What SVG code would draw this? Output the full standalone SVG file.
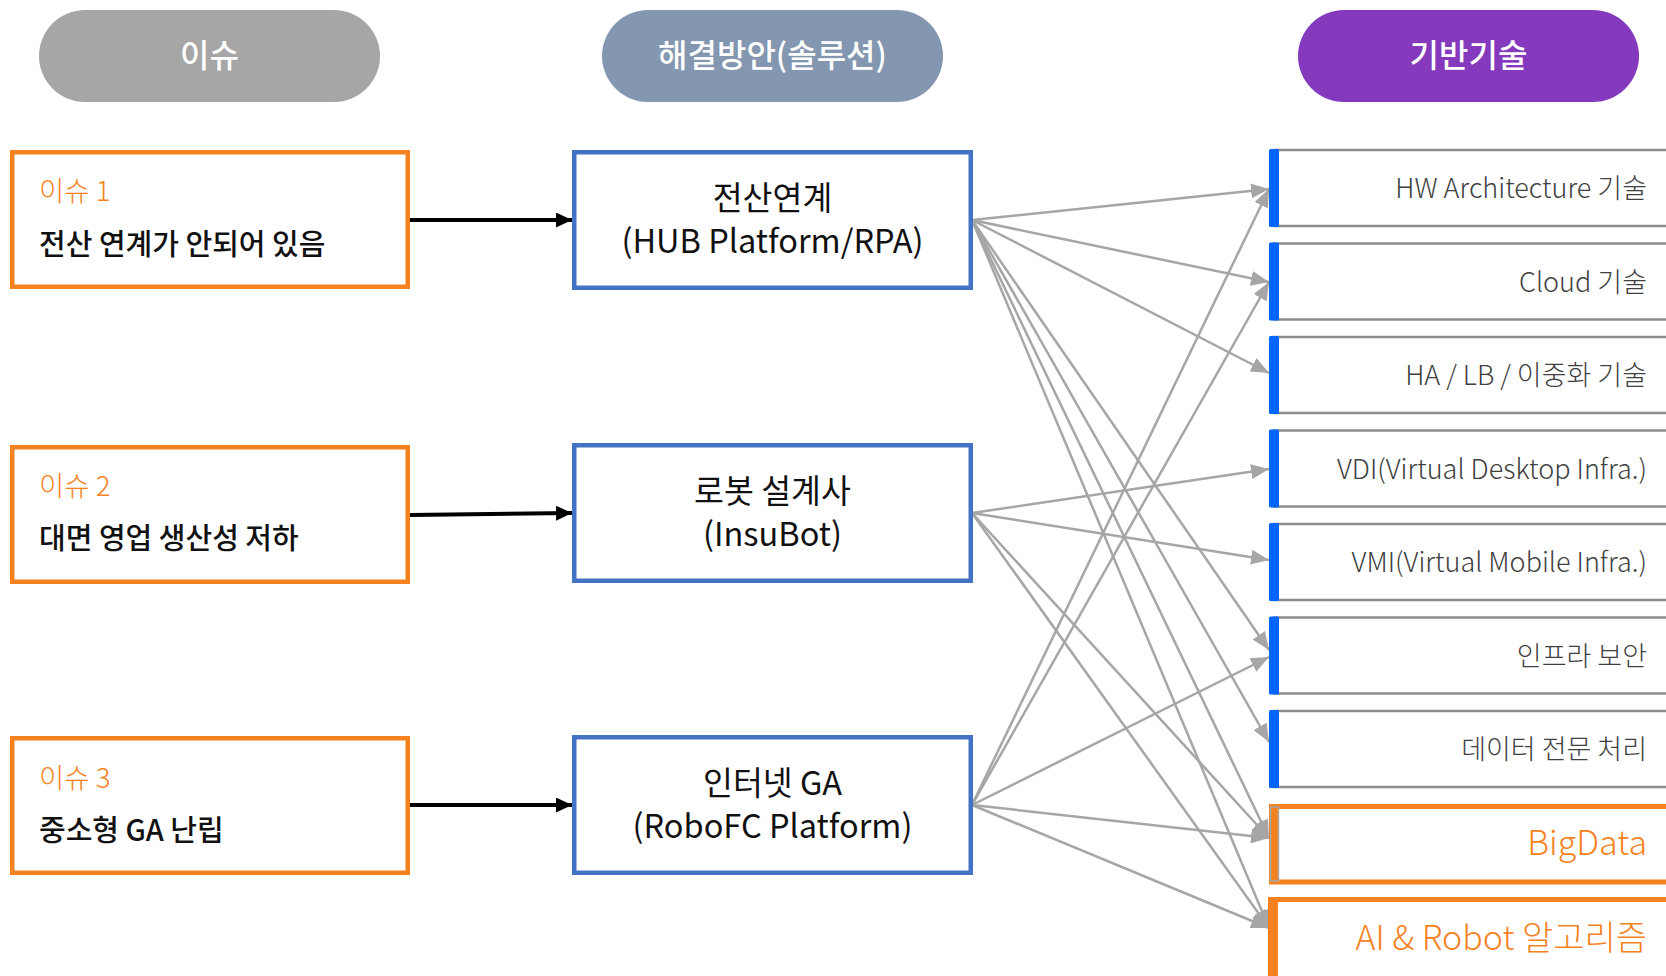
<svg xmlns="http://www.w3.org/2000/svg" width="1666" height="976" viewBox="0 0 1666 976">
  <style>
    text { font-family: 'Noto Sans CJK KR', 'Noto Sans', sans-serif; }
    .pill-t { font-size: 32px; font-weight: 500; fill: #ffffff; text-anchor: middle; }
    .issue-box { fill: #ffffff; stroke: #F5821F; stroke-width: 4.5; }
    .issue-lbl { font-size: 27.5px; font-weight: 300; fill: #F5821F; }
    .issue-txt { font-size: 29px; font-weight: 500; fill: #111111; }
    .sol-box { fill: #ffffff; stroke: #4472C4; stroke-width: 4.5; }
    .sol-txt { font-size: 32.5px; font-weight: 400; fill: #111111; text-anchor: middle; }
    .tech-box { fill: #ffffff; stroke: #8c8c8c; stroke-width: 2.5; }
    .tech-bar { fill: #0066FF; }
    .tech-txt { font-size: 27px; font-weight: 300; fill: #404040; text-anchor: end; }
    .tech-hi-box { fill: #ffffff; stroke: #F5821F; stroke-width: 5; }
    .tech-hi-txt { font-size: 34px; font-weight: 300; fill: #F5821F; text-anchor: end; }
    .blk { stroke: #000000; stroke-width: 4; fill: none; marker-end: url(#ah-black); }
    .gry { stroke: #a6a6a6; stroke-width: 2.5; fill: none; marker-end: url(#ah-gray); }
  </style>
  <defs>
    <marker id="ah-black" markerUnits="userSpaceOnUse" markerWidth="16" markerHeight="15" refX="16" refY="7.5" orient="auto">
      <path d="M0,0 L16,7.5 L0,15 z" fill="#000000"/>
    </marker>
    <marker id="ah-gray" markerUnits="userSpaceOnUse" markerWidth="18" markerHeight="15" refX="18" refY="7.5" orient="auto">
      <path d="M0,0 L18,7.5 L0,15 z" fill="#a6a6a6"/>
    </marker>
  </defs>

  <rect width="1666" height="976" fill="#ffffff"/>

  <!-- Column headers -->
  <g id="hdr-issue">
    <rect x="39" y="10" width="341" height="92" rx="46" fill="#A6A6A6"/>
    <text class="pill-t" x="209.5" y="67">이슈</text>
  </g>
  <g id="hdr-solution">
    <rect x="602" y="10" width="341" height="92" rx="46" fill="#8497B0"/>
    <text class="pill-t" x="772.5" y="67">해결방안(솔루션)</text>
  </g>
  <g id="hdr-tech">
    <rect x="1298" y="10" width="341" height="92" rx="46" fill="#853ABD"/>
    <text class="pill-t" x="1468.5" y="67">기반기술</text>
  </g>

  <!-- Connectors -->
  <g id="connectors">
    <path class="blk" d="M410,220 L572,220"/>
    <path class="blk" d="M410,515 L572,513"/>
    <path class="blk" d="M410,805 L572,805"/>

    <path class="gry" d="M972,220 L1269,189"/>
    <path class="gry" d="M972,220 L1269,282"/>
    <path class="gry" d="M972,220 L1269,373"/>
    <path class="gry" d="M972,220 L1269,650"/>
    <path class="gry" d="M972,220 L1269,742"/>
    <path class="gry" d="M972,220 L1269,838"/>
    <path class="gry" d="M972,220 L1269,928"/>

    <path class="gry" d="M972,513 L1269,469"/>
    <path class="gry" d="M972,513 L1269,560"/>
    <path class="gry" d="M972,513 L1269,838"/>
    <path class="gry" d="M972,513 L1269,928"/>

    <path class="gry" d="M972,805 L1269,189"/>
    <path class="gry" d="M972,805 L1269,282"/>
    <path class="gry" d="M972,805 L1269,657"/>
    <path class="gry" d="M972,805 L1269,838"/>
    <path class="gry" d="M972,805 L1269,928"/>
  </g>

  <!-- Issues -->
  <g id="issue1">
    <rect class="issue-box" x="12.25" y="152.25" width="395.5" height="134.5"/>
    <text class="issue-lbl" x="39" y="201">이슈 1</text>
    <text class="issue-txt" x="39" y="255">전산 연계가 안되어 있음</text>
  </g>
  <g id="issue2">
    <rect class="issue-box" x="12.25" y="447.25" width="395.5" height="134.5"/>
    <text class="issue-lbl" x="39" y="496">이슈 2</text>
    <text class="issue-txt" x="39" y="549">대면 영업 생산성 저하</text>
  </g>
  <g id="issue3">
    <rect class="issue-box" x="12.25" y="738.25" width="395.5" height="134.5"/>
    <text class="issue-lbl" x="39" y="788">이슈 3</text>
    <text class="issue-txt" x="39" y="841">중소형 GA 난립</text>
  </g>

  <!-- Solutions -->
  <g id="sol1">
    <rect class="sol-box" x="574.25" y="152.25" width="396.5" height="135.5"/>
    <text class="sol-txt" x="772.5" y="210">전산연계</text>
    <text class="sol-txt" x="772.5" y="253">(HUB Platform/RPA)</text>
  </g>
  <g id="sol2">
    <rect class="sol-box" x="574.25" y="445.25" width="396.5" height="135.5"/>
    <text class="sol-txt" x="772.5" y="503">로봇 설계사</text>
    <text class="sol-txt" x="772.5" y="546">(InsuBot)</text>
  </g>
  <g id="sol3">
    <rect class="sol-box" x="574.25" y="737.25" width="396.5" height="135.5"/>
    <text class="sol-txt" x="772.5" y="795">인터넷 GA</text>
    <text class="sol-txt" x="772.5" y="838">(RoboFC Platform)</text>
  </g>

  <!-- Technologies -->
  <g id="tech-hw">
    <rect class="tech-box" x="1274" y="150" width="450" height="76"/>
    <rect class="tech-bar" x="1269" y="149" width="10" height="78" rx="1.5"/>
    <text class="tech-txt" x="1647" y="198">HW Architecture 기술</text>
  </g>
  <g id="tech-cloud">
    <rect class="tech-box" x="1274" y="243.5" width="450" height="76"/>
    <rect class="tech-bar" x="1269" y="242.5" width="10" height="78" rx="1.5"/>
    <text class="tech-txt" x="1647" y="291.5">Cloud 기술</text>
  </g>
  <g id="tech-ha">
    <rect class="tech-box" x="1274" y="337" width="450" height="76"/>
    <rect class="tech-bar" x="1269" y="336" width="10" height="78" rx="1.5"/>
    <text class="tech-txt" x="1647" y="385">HA / LB / 이중화 기술</text>
  </g>
  <g id="tech-vdi">
    <rect class="tech-box" x="1274" y="430.5" width="450" height="76"/>
    <rect class="tech-bar" x="1269" y="429.5" width="10" height="78" rx="1.5"/>
    <text class="tech-txt" x="1647" y="478.5">VDI(Virtual Desktop Infra.)</text>
  </g>
  <g id="tech-vmi">
    <rect class="tech-box" x="1274" y="524" width="450" height="76"/>
    <rect class="tech-bar" x="1269" y="523" width="10" height="78" rx="1.5"/>
    <text class="tech-txt" x="1647" y="572">VMI(Virtual Mobile Infra.)</text>
  </g>
  <g id="tech-sec">
    <rect class="tech-box" x="1274" y="617.5" width="450" height="76"/>
    <rect class="tech-bar" x="1269" y="616.5" width="10" height="78" rx="1.5"/>
    <text class="tech-txt" x="1647" y="665.5">인프라 보안</text>
  </g>
  <g id="tech-data">
    <rect class="tech-box" x="1274" y="711" width="450" height="76"/>
    <rect class="tech-bar" x="1269" y="710" width="10" height="78" rx="1.5"/>
    <text class="tech-txt" x="1647" y="759">데이터 전문 처리</text>
  </g>
  <g id="tech-bigdata">
    <rect class="tech-hi-box" x="1271.5" y="806.5" width="450" height="75.5"/>
    <rect x="1270.5" y="807" width="8" height="74" fill="#F5821F" stroke="#a6a6a6" stroke-width="1.5"/>
    <text class="tech-hi-txt" x="1647" y="855">BigData</text>
  </g>
  <g id="tech-ai">
    <rect class="tech-hi-box" x="1273" y="899.5" width="450" height="80"/>
    <rect x="1268" y="897" width="10" height="79" fill="#F5821F"/>
    <text class="tech-hi-txt" x="1647" y="950">AI &amp; Robot 알고리즘</text>
  </g>
</svg>
